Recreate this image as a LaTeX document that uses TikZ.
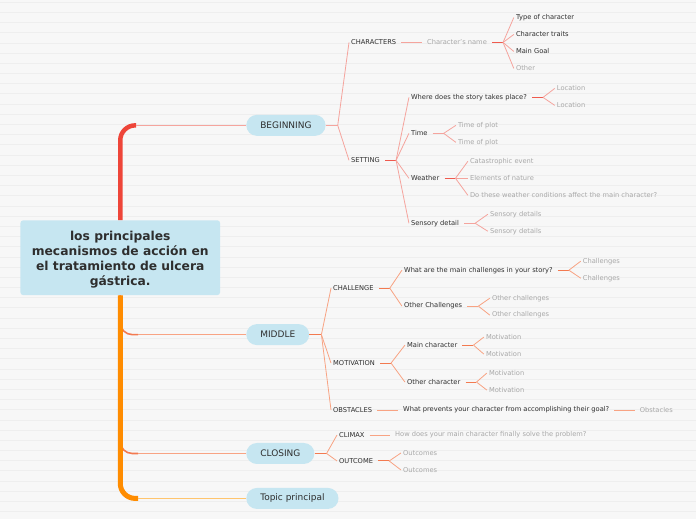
\documentclass[tikz,border=0pt]{standalone}
\usepackage{fontspec}
\setmainfont{DejaVu Sans}
\usepackage{xcolor}
\usepackage{tikz}
\usetikzlibrary{positioning,calc}
\definecolor{canvas}{HTML}{F7F7F7}
\definecolor{stripe}{HTML}{EEEEEE}
\definecolor{pill}{HTML}{C6E6F1}
\definecolor{ink}{HTML}{2E2E2E}
\definecolor{faded}{HTML}{A8A8A8}
\definecolor{trunkred}{HTML}{EE4539}
\definecolor{trunkorange}{HTML}{FF8C00}
\definecolor{begline}{HTML}{F5A49D}
\definecolor{begdark}{HTML}{EF5A4E}
\definecolor{midline}{HTML}{F8A383}
\definecolor{middark}{HTML}{F37A50}
\definecolor{topicline}{HTML}{FFC56E}
\tikzset{
    root/.style={rectangle, fill=pill, rounded corners=3pt, minimum width=200pt, minimum height=75pt, align=center, font=\fontsize{12.3}{15}\selectfont\bfseries, text=ink},
    pillbox/.style={rectangle, anchor=west, fill=pill, rounded corners=10.5pt, minimum height=21pt, inner xsep=14pt, font=\fontsize{9}{10}\selectfont, text=ink},
    topic/.style={anchor=west, inner xsep=2pt, inner ysep=1pt, font=\fontsize{6.7}{7.5}\selectfont, text=ink},
    leaf/.style={topic, text=faded},
    twig/.style={line width=0.8pt},
    stub/.style={line width=1pt},
    trunk/.style={line width=5pt, rounded corners=15pt}
}
% parent, children, colour of stub, colour of twigs
\newcommand{\fan}[4]{%
  \draw[stub, #3, shorten <=3pt] (#1.east) -- ++(14,0) coordinate (#1-f);
  \foreach \c in {#2} \draw[twig, #4] (#1-f) -- (\c.west);}
\newcommand{\pillfan}[4]{%
  \draw[stub, #3] (#1.east) -- ++(12,0) coordinate (#1-f);
  \foreach \c in {#2} \draw[twig, #4] (#1-f) -- (\c.west);}

\begin{document}
\begin{tikzpicture}[x=1pt, y=-1pt]

% Canvas
\fill[canvas] (0,0) rectangle (696,520);
\foreach \i in {0,...,50} \draw[stripe, line width=0.8pt] (0,2.2+10.2*\i) -- (696,2.2+10.2*\i);
\useasboundingbox (0,0) rectangle (696,520);

\begin{scope}[yshift=-0.5pt]
% Central topic and main branches
\node[root] (root) at (120,257.5) {\rule{0pt}{14pt}los principales\\mecanismos de acción en\\el tratamiento de ulcera\\gástrica.};
\node[pillbox] (beg) at (246,125) {BEGINNING};
\node[pillbox] (mid) at (246,334.5) {MIDDLE};
\node[pillbox] (clo) at (246,453.5) {CLOSING};
\node[pillbox] (tpc) at (246,498.5) {Topic principal};

% Beginning
\node[topic] (char) at (349,42) {CHARACTERS};
\node[leaf] (cname) at (425,42) {Character's name};
\node[topic] (ctype) at (514,17) {Type of character};
\node[topic] (ctrait) at (514,34) {Character traits};
\node[topic] (cgoal) at (514,51) {Main Goal};
\node[leaf] (cother) at (514,68) {Other};
\node[topic] (sett) at (349,160) {SETTING};
\node[topic] (where) at (409,97) {Where does the story takes place?};
\node[leaf] (loc1) at (555,88) {Location};
\node[leaf] (loc2) at (555,105) {Location};
\node[topic] (time) at (409,133) {Time};
\node[leaf] (tp1) at (456,125) {Time of plot};
\node[leaf] (tp2) at (456,142) {Time of plot};
\node[topic] (weat) at (409,178) {Weather};
\node[leaf] (w1) at (468,161) {Catastrophic event};
\node[leaf] (w2) at (468,178) {Elements of nature};
\node[leaf] (w3) at (468,195) {Do these weather conditions affect the main character?};
\node[topic] (sens) at (409,223) {Sensory detail};
\node[leaf] (sd1) at (488,214) {Sensory details};
\node[leaf] (sd2) at (488,231) {Sensory details};

% Middle
\node[topic] (chal) at (331,288) {CHALLENGE};
\node[topic] (mainch) at (402,270) {What are the main challenges in your story?};
\node[leaf] (ch1) at (581,261) {Challenges};
\node[leaf] (ch2) at (581,278) {Challenges};
\node[topic] (othch) at (402,306) {Other Challenges};
\node[leaf] (oc1) at (490,298) {Other challenges};
\node[leaf] (oc2) at (490,315) {Other challenges};
\node[topic] (moti) at (331,363) {MOTIVATION};
\node[topic] (mainc) at (405,345) {Main character};
\node[leaf] (m1) at (484,337) {Motivation};
\node[leaf] (m2) at (484,354) {Motivation};
\node[topic] (othc) at (405,382) {Other character};
\node[leaf] (m3) at (487,373) {Motivation};
\node[leaf] (m4) at (487,390) {Motivation};
\node[topic] (obst) at (331,410) {OBSTACLES};
\node[topic] (prev) at (401,410) {What prevents your character from accomplishing their goal?};
\node[leaf] (obs) at (638,410) {Obstacles};

% Closing
\node[topic] (clim) at (337,435) {CLIMAX};
\node[leaf] (how) at (393,435) {How does your main character finally solve the problem?};
\node[topic] (outc) at (337,461) {OUTCOME};
\node[leaf] (out1) at (401,453) {Outcomes};
\node[leaf] (out2) at (401,470) {Outcomes};

% Trunk
\coordinate (begj) at (136,125);
\coordinate (midj) at (138,334.5);
\coordinate (cloj) at (138,453.5);
\coordinate (tpcj) at (138,498.5);
\draw[line width=1.6pt, middark, rounded corners=12pt] (root.south) |- (midj);
\draw[line width=1.6pt, middark, rounded corners=12pt] (root.south) |- (cloj);
\draw[trunk, trunkred, line width=4.5pt] (root.north) |- (begj);
\draw[trunk, trunkorange] (root.south) |- (tpcj);
\draw[line width=1.3pt, begline] (begj) -- (beg.west);
\draw[line width=1.3pt, midline] (midj) -- (mid.west);
\draw[line width=1.3pt, midline] (cloj) -- (clo.west);
\draw[line width=1.3pt, topicline] (tpcj) -- (tpc.west);

% Beginning lines
\pillfan{beg}{char,sett}{begline}{begline}
\draw[stub, begline, shorten <=3pt, shorten >=3pt] (char.east) -- (cname.west);
\fan{cname}{ctype,ctrait,cgoal,cother}{begdark}{begline}
\fan{sett}{where,time,weat,sens}{begdark}{begline}
\fan{where}{loc1,loc2}{begdark}{begline}
\fan{time}{tp1,tp2}{begline}{begline}
\fan{weat}{w1,w2,w3}{begdark}{begline}
\fan{sens}{sd1,sd2}{begline}{begline}

% Middle lines
\pillfan{mid}{chal,moti,obst}{middark}{midline}
\fan{chal}{mainch,othch}{middark}{midline}
\fan{mainch}{ch1,ch2}{middark}{midline}
\fan{othch}{oc1,oc2}{midline}{midline}
\fan{moti}{mainc,othc}{middark}{midline}
\fan{mainc}{m1,m2}{middark}{midline}
\fan{othc}{m3,m4}{middark}{midline}
\draw[stub, midline, shorten <=3pt, shorten >=3pt] (obst.east) -- (prev.west);
\draw[stub, midline, shorten <=3pt, shorten >=3pt] (prev.east) -- (obs.west);

% Closing lines
\pillfan{clo}{clim,outc}{middark}{midline}
\draw[stub, midline, shorten <=3pt, shorten >=3pt] (clim.east) -- (how.west);
\fan{outc}{out1,out2}{middark}{midline}
\end{scope}

\end{tikzpicture}
\end{document}
